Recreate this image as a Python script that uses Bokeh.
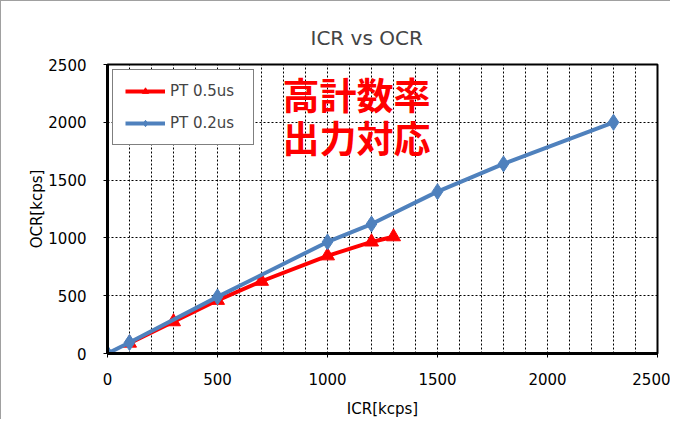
from bokeh.plotting import figure
from bokeh.models import Label, SingleIntervalTicker, Range1d, Legend, LegendItem
from bokeh.embed import file_html
from bokeh.resources import INLINE

# Data
icr_05 = [100, 300, 500, 700, 1000, 1200, 1300]
ocr_05 = [90, 275, 460, 625, 845, 965, 1010]
icr_02 = [0, 100, 500, 1000, 1200, 1500, 1800, 2300]
ocr_02 = [0, 95, 490, 965, 1120, 1400, 1640, 2000]
series_names = ["PT 0.5us", "PT 0.2us"]
title_text = "ICR vs OCR"
x_label = "ICR[kcps]"
y_label = "OCR[kcps]"
note_lines = ["高計数率", "出力対応"]

RED = "#FF0000"
BLUE = "#4F81BD"
FONT = "DejaVu Sans"

p = figure(width=670, height=419, output_backend="svg", toolbar_location=None,
           x_range=Range1d(0, 2500), y_range=Range1d(0, 2500),
           min_border_left=106, min_border_right=14, min_border_top=63, min_border_bottom=63)
p.styles = {"border-left": "1px solid #a0a0a0", "border-top": "1px solid #a0a0a0"}

p.title.text = title_text
p.title.text_font = FONT
p.title.text_font_size = "20px"
p.title.text_font_style = "normal"
p.title.align = "left"
p.title.offset = 203
p.title.standoff = 30

p.outline_line_color = "black"
p.outline_line_width = 2
p.outline_line_alpha = 1

for ax in (p.xaxis[0], p.yaxis[0]):
    ax.ticker = SingleIntervalTicker(interval=500)
    ax.axis_line_color = "black"
    ax.axis_line_width = 3
    ax.major_tick_line_color = "black"
    ax.major_tick_out = 4
    ax.major_tick_in = 0
    ax.minor_tick_line_color = None
    ax.major_label_text_font = FONT
    ax.major_label_text_font_size = "15px"
    ax.major_label_text_color = "black"
    ax.axis_label_text_font = FONT
    ax.axis_label_text_font_size = "15px"
    ax.axis_label_text_font_style = "normal"
    ax.axis_label_text_color = "black"

p.xaxis.axis_label = x_label
p.yaxis.axis_label = y_label
p.xaxis.major_label_standoff = 15
p.yaxis.major_label_standoff = 17
p.xaxis.axis_label_standoff = 12
p.yaxis.axis_label_standoff = -1

p.xgrid.ticker = SingleIntervalTicker(interval=100)
p.ygrid.ticker = SingleIntervalTicker(interval=500)
for g in (p.xgrid[0], p.ygrid[0]):
    g.grid_line_color = "black"
    g.grid_line_dash = "2 2"
    g.grid_line_width = 1
    g.grid_line_alpha = 1

r1l = p.line(icr_05, ocr_05, line_color=RED, line_width=4)
r1m = p.scatter(icr_05, ocr_05, marker="triangle", size=14, fill_color=RED, line_color=RED)
r2l = p.line(icr_02, ocr_02, line_color=BLUE, line_width=4)
r2m = p.scatter(icr_02, ocr_02, marker="diamond", size=16, fill_color=BLUE, line_color=BLUE)

legend = Legend(items=[LegendItem(label=series_names[0], renderers=[r1l, r1m]),
                       LegendItem(label=series_names[1], renderers=[r2l, r2m])],
                location="top_left")
legend.border_line_color = "black"
legend.border_line_width = 1
legend.background_fill_color = "white"
legend.background_fill_alpha = 1
legend.label_text_font = FONT
legend.label_text_font_size = "15px"
legend.glyph_width = 40
legend.glyph_height = 16
legend.spacing = 14
legend.padding = 12
legend.margin = 5
legend.label_standoff = 5
legend.label_width = 71
p.add_layout(legend)

for i, line in enumerate(note_lines):
    p.add_layout(Label(x=795, y=2246 - i * 376, text=line, text_color=RED,
                       text_font="Noto Sans CJK JP", text_font_style="bold",
                       text_font_size="37px", text_baseline="middle", text_align="left"))

open("out.html", "w").write(file_html(p, INLINE))
